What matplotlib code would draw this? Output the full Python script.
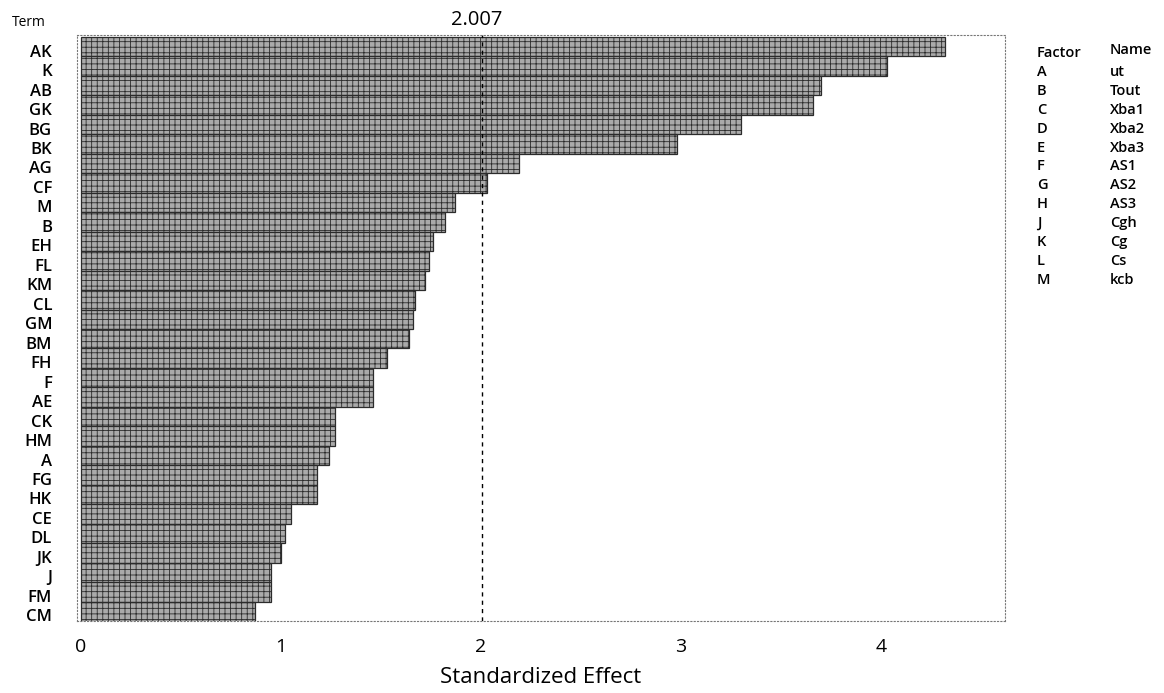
import matplotlib
matplotlib.use("Agg")
import matplotlib.pyplot as plt
from matplotlib.transforms import blended_transform_factory, ScaledTranslation

# ---- data ----
terms = ["AK", "K", "AB", "GK", "BG", "BK", "AG", "CF", "M", "B",
         "EH", "FL", "KM", "CL", "GM", "BM", "FH", "F", "AE", "CK",
         "HM", "A", "FG", "HK", "CE", "DL", "JK", "J", "FM", "CM"]
effects = [4.32, 4.03, 3.70, 3.66, 3.30, 2.98, 2.19, 2.03, 1.87, 1.82,
           1.76, 1.74, 1.72, 1.67, 1.66, 1.64, 1.53, 1.46, 1.46, 1.27,
           1.27, 1.24, 1.18, 1.18, 1.05, 1.02, 1.00, 0.95, 0.95, 0.87]
ref_value = 2.007
x_ticks = [0, 1, 2, 3, 4]
factor_codes = ["A", "B", "C", "D", "E", "F", "G", "H", "J", "K", "L", "M"]
factor_names = ["ut", "Tout", "Xba1", "Xba2", "Xba3", "AS1", "AS2", "AS3",
                "Cgh", "Cg", "Cs", "kcb"]

plt.rcParams['font.family'] = ['Open Sans', 'DejaVu Sans']
plt.rcParams['hatch.color'] = "#6a6a6a"
plt.rcParams['hatch.linewidth'] = 0.6

W, H = 1164, 693
fig = plt.figure(figsize=(W / 100, H / 100), dpi=100)
ax = fig.add_axes([77 / W, 1 - 621 / H, (1005 - 77) / W, (621 - 35) / H])

n = len(terms)
ax.barh(range(n), effects, height=1.0, color="#aaaaaa",
        edgecolor="#2b2b2b", linewidth=0.9, hatch="+++")
ax.axvline(ref_value, color="black", linestyle=(0, (3, 3)), linewidth=1.0)

ax.set_xlim(-0.02, 4.62)
ax.set_ylim(n - 0.5, -0.6)
ax.set_yticks(range(n))
ax.set_yticklabels(terms, fontsize=12, fontweight="semibold")
ax.set_xticks(x_ticks)
ax.set_xticklabels([str(t) for t in x_ticks], fontsize=14)
ax.tick_params(axis="y", length=0, pad=18)
ax.tick_params(axis="x", length=0, pad=12)
ax.set_xlabel("Standardized Effect", fontsize=16, labelpad=8)

shift = ScaledTranslation(0, -4 / 100, fig.dpi_scale_trans)
for lbl in ax.get_yticklabels():
    lbl.set_transform(lbl.get_transform() + shift)

for s in ax.spines.values():
    s.set_linestyle((0, (1, 2)))
    s.set_color("#777777")
    s.set_linewidth(0.8)

trans = blended_transform_factory(ax.transData, fig.transFigure)
ax.text(ref_value - 0.03, 1 - 20 / H, "2.007", transform=trans, ha="center",
        va="center", fontsize=14.5)
fig.text(12 / W, 1 - 23 / H, "Term", ha="left", va="center", fontsize=10)

# factor table
row0 = 53
step = 18.9
fig.text(1037 / W, 1 - row0 / H, "Factor", ha="left", va="center",
         fontsize=10.5, fontweight="semibold")
fig.text(1110 / W, 1 - (row0 - 3) / H, "Name", ha="left", va="center",
         fontsize=10.5, fontweight="semibold")
for i, (c, nm) in enumerate(zip(factor_codes, factor_names)):
    y = 1 - (row0 + step * (i + 1)) / H
    fig.text(1037 / W, y, c, ha="left", va="center", fontsize=10.5,
             fontweight="semibold")
    fig.text(1110 / W, y, nm, ha="left", va="center", fontsize=10.5,
             fontweight="semibold")

fig.savefig("out.png", dpi=100)
